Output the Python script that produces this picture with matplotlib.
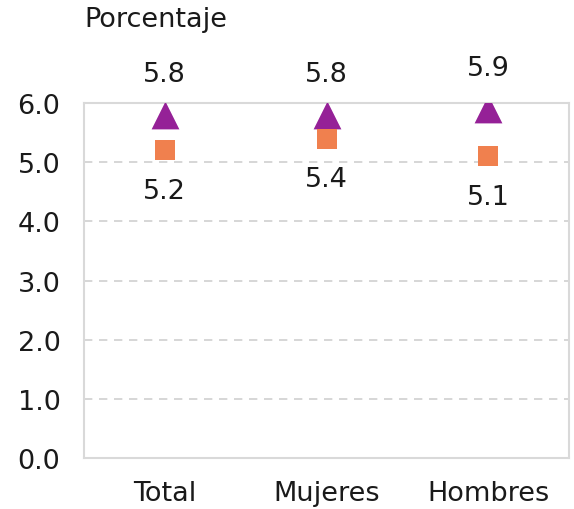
import numpy as np
import matplotlib.pyplot as plt

# Datos
categorias = ["Total", "Mujeres", "Hombres"]
serie_triangulo = [5.8, 5.8, 5.9]
serie_cuadrado = [5.2, 5.4, 5.1]
yticks = [0.0, 1.0, 2.0, 3.0, 4.0, 5.0, 6.0]

plt.rcParams['font.family'] = ['DejaVu Sans']
fs = 19.5

fig = plt.figure(figsize=(5.74, 5.10), dpi=100)
ax = fig.add_axes([84 / 574, 1 - 459 / 510, 485 / 574, 355 / 510])

x = np.arange(len(categorias)) + 0.5
ax.scatter(x, serie_triangulo, marker='^', s=400, color='#952197', zorder=3, linewidths=0)
ax.scatter(x, serie_cuadrado, marker='s', s=190, color='#F0804E', zorder=3, linewidths=0)

for xi, v in zip(x, serie_triangulo):
    ax.annotate(f"{v:.1f}", (xi, v), xytext=(0, 29.5), textcoords='offset points',
                ha='center', va='center', fontsize=fs, color='#1a1a1a')
for xi, v in zip(x, serie_cuadrado):
    ax.annotate(f"{v:.1f}", (xi, v), xytext=(0, -29.5), textcoords='offset points',
                ha='center', va='center', fontsize=fs, color='#1a1a1a')

ax.set_xlim(0, 3)
ax.set_ylim(0, 6)
ax.set_xticks(x)
ax.set_xticklabels(categorias, fontsize=fs)
ax.set_yticks(yticks)
ax.set_yticklabels([f"{t:.1f}" for t in yticks], fontsize=fs)
ax.tick_params(length=0, colors='#1a1a1a')
ax.tick_params(axis='y', pad=17)
ax.tick_params(axis='x', pad=16)

ax.yaxis.grid(True, linestyle=(0, (5, 4)), color='#d0d0d0', linewidth=1.2)
ax.set_axisbelow(True)
for s in ax.spines.values():
    s.set_color('#d9d9d9')
    s.set_linewidth(1.5)

fig.text(84 / 574, 1 - 20 / 510, "Porcentaje", fontsize=fs, ha='left', va='center', color='#1a1a1a')

fig.savefig("out.png", dpi=100)
